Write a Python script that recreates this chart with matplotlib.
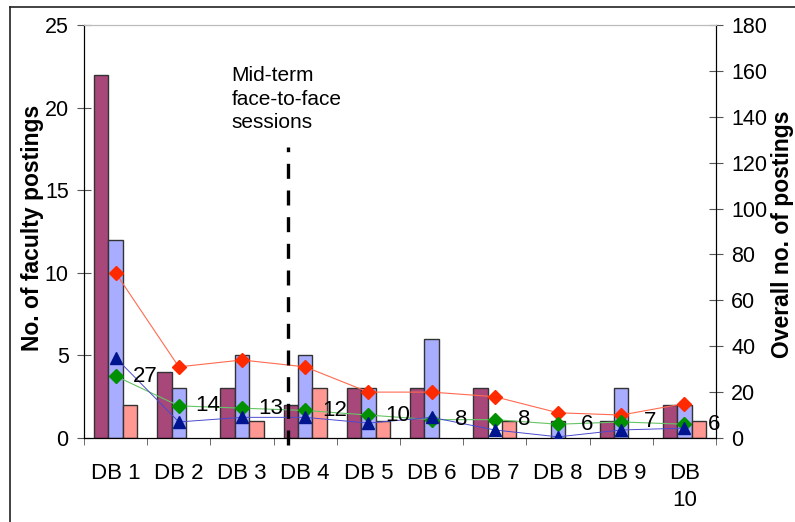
import matplotlib
matplotlib.use("Agg")
import matplotlib.pyplot as plt
import numpy as np
from matplotlib.lines import Line2D

plt.rcParams['font.family'] = ['Liberation Sans', 'DejaVu Sans']

categories = ["DB 1", "DB 2", "DB 3", "DB 4", "DB 5", "DB 6", "DB 7", "DB 8", "DB 9", "DB\n10"]
faculty_a = [22, 4, 3, 2, 3, 3, 3, 0, 1, 2]
faculty_b = [12, 3, 5, 5, 3, 6, 0, 1, 3, 2]
faculty_c = [2, 0, 1, 3, 1, 0, 1, 0, 0, 1]
overall_red = [72, 31, 34, 31, 20, 20, 18, 11, 10, 15]
overall_blue = [35, 7, 9, 9, 6.5, 9, 3.5, 0.5, 3.5, 4.3]
overall_green = [27, 14, 13, 12, 10, 8, 8, 6, 7, 6]
left_ticks = [0, 5, 10, 15, 20, 25]
right_ticks = [0, 20, 40, 60, 80, 100, 120, 140, 160, 180]
midterm_text = "Mid-term\nface-to-face\nsessions"
midterm_pos = 2.73

fig = plt.figure(figsize=(7.95, 5.22), dpi=100)
ax = fig.add_axes([84/795, 1-438/522, (716-84)/795, (438-25)/522])
ax2 = ax.twinx()

x = np.arange(len(categories))
w = 0.228
ec = '#333333'


def edge_widths(vals):
    return [1.0 if v > 0 else 0.0 for v in vals]


ax.bar(x - w, faculty_a, w, color='#A8487A', edgecolor=ec,
       linewidth=edge_widths(faculty_a), zorder=2)
ax.bar(x, faculty_b, w, color='#A9ADFF', edgecolor=ec,
       linewidth=edge_widths(faculty_b), zorder=2)
ax.bar(x + w, faculty_c, w, color='#FF9893', edgecolor=ec,
       linewidth=edge_widths(faculty_c), zorder=2)

ax.set_xlim(-0.5, len(categories) - 0.5)
ax.set_ylim(0, 25)
ax2.set_ylim(0, 180)
ax.set_yticks(left_ticks)
ax2.set_yticks(right_ticks)

ax2.plot(x, overall_red, color='#FF6A50', lw=0.8, marker='D', ms=7,
         mfc='#FF2A00', mec='#FF2A00', zorder=5)
ax2.plot(x, overall_green, color='#66C466', lw=0.8, marker='D', ms=7,
         mfc='#009000', mec='#009000', zorder=5)
ax2.plot(x, overall_blue, color='#4A4ACF', lw=0.7, marker='^', ms=8.5,
         mfc='#00148F', mec='#00148F', zorder=5)

for xi, v in zip(x, overall_green):
    ax2.annotate(str(v), (xi, v), xytext=(21, 0), textcoords='offset points',
                 ha='center', va='center', fontsize=16, color='black', zorder=6)

# mid-term marker
ax2.plot([midterm_pos, midterm_pos], [-3, 127], color='black', lw=2.4,
         dashes=(4.5, 3.5), clip_on=False, zorder=7)
ax2.text(1.83, 162, midterm_text, ha='left', va='top', fontsize=15,
         linespacing=1.3, zorder=8)

# spines
for a in (ax, ax2):
    a.spines['top'].set_color('#BBBBBB')
    a.spines['left'].set_color('black')
    a.spines['right'].set_color('black')
    a.spines['bottom'].set_color('black')
    a.set_facecolor('none')

ax.set_xticks(x)
ax.set_xticklabels(categories, fontsize=16)
for lbl in ax.get_xticklabels():
    lbl.set_linespacing(1.4)
ax.set_xticks(np.arange(-0.5, len(categories), 1), minor=True)
ax.tick_params(axis='x', which='major', length=0, pad=18)
ax.tick_params(axis='x', which='minor', direction='out', length=5, color='#555555')
ax.tick_params(axis='y', direction='inout', length=10, color='#555555',
               labelsize=15.5, pad=6)
ax2.tick_params(axis='y', direction='inout', length=10, color='#555555',
                labelsize=15.5, pad=6)

fig.text(33/795, 1-228/522, "No. of faculty postings", rotation=90, ha='center',
         va='center', fontsize=16.5, fontweight='bold')
fig.text(783/795, 1-234/522, "Overall no. of postings", rotation=90, ha='center',
         va='center', fontsize=16.5, fontweight='bold')

# outer frame (top and left)
fig.add_artist(Line2D([10/795, 1], [1-7/522, 1-7/522], color='#222222', lw=1.2))
fig.add_artist(Line2D([10/795, 10/795], [0, 1-7/522], color='#222222', lw=1.2))

fig.savefig("out.png", dpi=100)
